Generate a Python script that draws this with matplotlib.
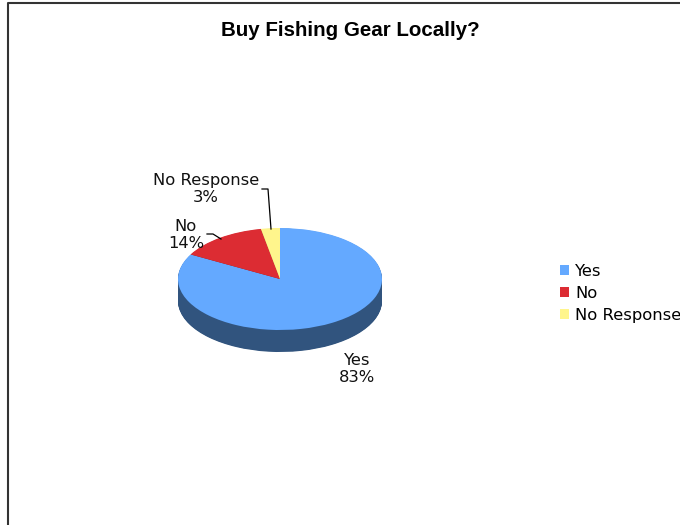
from matplotlib import pyplot as plt
from matplotlib.patches import Patch
from matplotlib.lines import Line2D

odpovedi = ["Yes", "No", "No Response"]
podily = [83, 14, 3]
barvy = ["#64A9FF", "#DC2C33", "#FFF58C"]
barvy_bok = ["#31547E", "#7E1A1E", "#A39D58"]

W, H = 680, 525
fig = plt.figure(figsize=(W / 100, H / 100), dpi=100)
ax = fig.add_axes([0, 0, 1, 1])

# pixel layout of the pie (ellipse, center, depth)
cx, cy, rx, ry, hloubka = 280, 279, 102, 51, 22

def px(x):
    return (x - cx) / rx

def py(y):
    return (cy - y) / ry

# side of the 3D pie: stacked darker layers
vrstvy = 40
for k in range(vrstvy, 0, -1):
    d = hloubka / ry * k / vrstvy
    ax.pie(podily, colors=barvy_bok, startangle=90, counterclock=False,
           center=(0, -d), radius=1, wedgeprops={"linewidth": 0})

# top face
kousky, _ = ax.pie(podily, colors=barvy, startangle=90, counterclock=False,
                   center=(0, 0), radius=1, wedgeprops={"linewidth": 0})

ax.set_aspect("auto")
ax.set_xlim(px(0), px(W))
ax.set_ylim(py(H), py(0))
ax.axis("off")

popisky = [f"{o}\n{p}%" for o, p in zip(odpovedi, podily)]
pozice = [(357, 369), (186, 235), (206, 189)]
for t, (x, y) in zip(popisky, pozice):
    ax.text(px(x), py(y), t, ha="center", va="center", fontsize=11.8,
            family="DejaVu Sans", color="#111111", linespacing=1.18)

# leader lines
ax.plot([px(262), px(268), px(271)], [py(189), py(189), py(229)], color="black", lw=0.9)
ax.plot([px(207), px(213), px(221)], [py(234), py(234), py(239)], color="black", lw=0.9)

fig.text(350 / W, 1 - 31 / H, "Buy Fishing Gear Locally?", ha="center", va="center",
         fontsize=14.8, fontweight="bold", family="Liberation Sans")

# legend
ruky = [Patch(facecolor=b, edgecolor="none") for b in barvy]
fig.legend(ruky, odpovedi, loc="upper left", bbox_to_anchor=(560 / W, 1 - 264 / H),
           frameon=False, handlelength=0.52, handleheight=0.52,
           handletextpad=0.4, labelspacing=0.42, borderpad=0, borderaxespad=0,
           prop={"family": "DejaVu Sans", "size": 11.8})

# chart area border (left and top only visible)
fig.add_artist(Line2D([8 / W, 8 / W, 1], [0, 1 - 3 / H, 1 - 3 / H], color="#333333", lw=1.5))

fig.savefig("out.png", dpi=100)
